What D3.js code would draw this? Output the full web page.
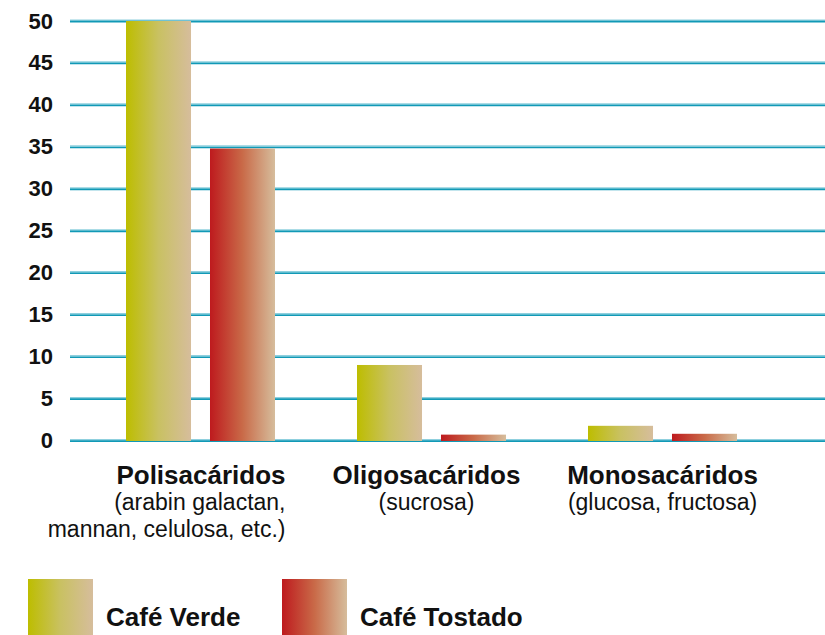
<!DOCTYPE html>
<html>
<head>
<meta charset="utf-8">
<script src="https://cdn.jsdelivr.net/npm/d3@7"></script>
<style>
  body { margin: 0; background: #fff; }
  svg { display: block; font-family: "Liberation Sans", Arial, sans-serif; }
</style>
</head>
<body>
<div class="chart"></div>
<script>
// chart size
const WIDTH = 825;
const HEIGHT = 635;

// data
const categories = ["Polisacáridos", "Oligosacáridos", "Monosacáridos"];
const subLabels = [["(arabin galactan,", "mannan, celulosa, etc.)"], ["(sucrosa)"], ["(glucosa, fructosa)"]];
const series = ["Café Verde", "Café Tostado"];
const verde = [50, 9.0, 1.75];
const tostado = [34.8, 0.7, 0.8];
const yTicks = [0, 5, 10, 15, 20, 25, 30, 35, 40, 45, 50];

const gradStops = {
  "Café Verde": ["#bdbd00", "#c9c162", "#d6bd9c"],
  "Café Tostado": ["#be1a1e", "#c96a48", "#d6bd9c"]
};

const svg = d3.select(".chart")
  .append("svg")
  .attr("width", WIDTH)
  .attr("height", HEIGHT);

// gradients for bars and legend swatches
const defs = svg.append("defs");
series.forEach((s, i) => {
  const g = defs.append("linearGradient")
    .attr("id", "grad" + i)
    .attr("x1", "0%").attr("x2", "100%")
    .attr("y1", "0%").attr("y2", "0%");
  gradStops[s].forEach((c, j) => {
    g.append("stop")
      .attr("offset", (j * 50) + "%")
      .attr("stop-color", c);
  });
});

//scales
const yScale = d3.scaleLinear().domain([0, 50]).range([440.5, 21]);
const x0 = d3.scaleBand().domain(categories).range([85, 778]);
const x1 = d3.scaleBand().domain(series)
  .range([x0.bandwidth() / 2 - 74.5, x0.bandwidth() / 2 + 74.5])
  .paddingInner(0.226);

// grid lines
const grid = svg.append("g");
grid.selectAll("line.light")
  .data(yTicks)
  .join("line")
  .attr("class", "light")
  .attr("x1", 70).attr("x2", WIDTH)
  .attr("y1", d => yScale(d) - 0.8)
  .attr("y2", d => yScale(d) - 0.8)
  .attr("stroke", "#8fd0de")
  .attr("stroke-width", 1.6);
grid.selectAll("line.dark")
  .data(yTicks)
  .join("line")
  .attr("class", "dark")
  .attr("x1", 70).attr("x2", WIDTH)
  .attr("y1", d => yScale(d) + 0.6)
  .attr("y2", d => yScale(d) + 0.6)
  .attr("stroke", "#1199b6")
  .attr("stroke-width", 1.6);

// y labels
const yAxis = svg.append("g")
  .attr("transform", "translate(53,0)")
  .call(d3.axisLeft(yScale).tickValues(yTicks).tickSize(0).tickPadding(0));
yAxis.select(".domain").remove();
yAxis.selectAll("text")
  .attr("fill", "#111")
  .style("font-size", "22px")
  .style("font-weight", "bold")
  .style("font-family", "'Liberation Sans', Arial, sans-serif");

// bars
const rows = categories.map((c, i) => ({ cat: c, values: [verde[i], tostado[i]] }));
const groups = svg.append("g")
  .selectAll("g")
  .data(rows)
  .join("g")
  .attr("transform", d => `translate(${x0(d.cat)},0)`);

groups.selectAll("rect")
  .data(d => d.values.map((v, i) => ({ s: series[i], v: v, i: i })))
  .join("rect")
  .attr("x", d => x1(d.s))
  .attr("width", x1.bandwidth())
  .attr("y", d => yScale(d.v))
  .attr("height", d => yScale(0) - yScale(d.v) + 0.5)
  .attr("fill", d => `url(#grad${d.i})`);

// category labels (first one is right aligned in the original)
const labels = svg.append("g")
  .selectAll("g")
  .data(categories)
  .join("g")
  .attr("transform", (d, i) => {
    const mid = x0(d) + x0.bandwidth() / 2;
    if (i === 0) return `translate(${mid + 85},0)`;
    if (i === 1) return `translate(${mid - 5},0)`;
    return `translate(${mid},0)`;
  })
  .attr("text-anchor", (d, i) => i === 0 ? "end" : "middle")
  .attr("fill", "#111");

labels.append("text")
  .attr("y", 484)
  .style("font-size", "26px")
  .style("font-weight", "bold")
  .text(d => d);

labels.each(function (d, i) {
  d3.select(this).selectAll("text.sub")
    .data(subLabels[i])
    .join("text")
    .attr("class", "sub")
    .attr("y", (t, j) => 510 + j * 27)
    .style("font-size", "23px")
    .text(t => t);
});

// legend
const legend = svg.append("g")
  .selectAll("g")
  .data(series)
  .join("g")
  .attr("transform", (d, i) => `translate(${28 + i * 254},579)`);

legend.append("rect")
  .attr("width", 65)
  .attr("height", 60)
  .attr("fill", (d, i) => `url(#grad${i})`);

legend.append("text")
  .attr("x", 78)
  .attr("y", 47)
  .attr("fill", "#111")
  .style("font-size", "26px")
  .style("font-weight", "bold")
  .text(d => d);
</script>
</body>
</html>
